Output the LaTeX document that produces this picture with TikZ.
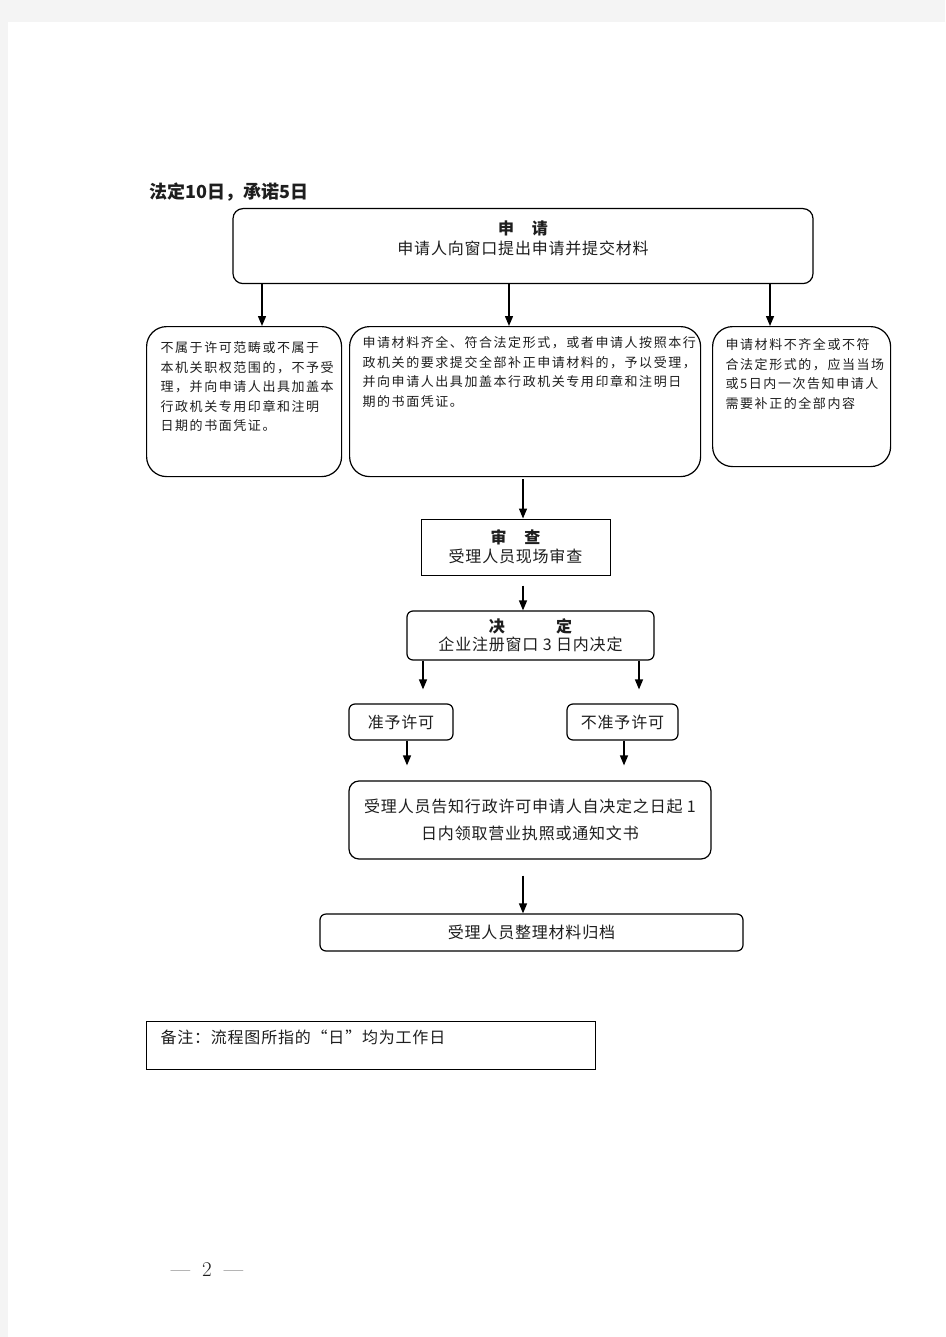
\documentclass[tikz,border=0pt]{standalone}
\usepackage{fontspec}
\usepackage{tikz}
\usetikzlibrary{shapes.geometric, arrows, arrows.meta, positioning}
\newfontfamily\cjk{Noto Sans CJK SC}
\definecolor{pagegray}{HTML}{F4F4F4}
\definecolor{inkgray}{HTML}{1E1E1E}
\newcommand{\headtext}{\cjk\bfseries\fontsize{18}{22}\selectfont}
\newcommand{\boxtext}{\cjk\fontsize{16}{19}\selectfont\addfontfeature{LetterSpace=5}}
\newcommand{\sidetext}{\cjk\fontsize{13}{19.5}\selectfont\addfontfeature{LetterSpace=12}}
\newcommand{\pagenumfont}{\fontsize{21}{24}\selectfont}

\begin{document}
\begin{tikzpicture}[x=1pt, y=-1pt, text=inkgray]
% Define styles
\tikzstyle{bigbox} = [rectangle, rounded corners=10pt, draw=black, line width=1.2pt, anchor=north, inner xsep=10pt, inner ysep=12pt, font=\boxtext]
\tikzstyle{sidebox} = [rectangle, rounded corners=20pt, draw=black, line width=1.2pt, anchor=north west, inner xsep=13pt, inner ysep=12pt, font=\sidetext]
\tikzstyle{plainbox} = [rectangle, draw=black, line width=1pt, align=center, inner sep=0pt, font=\boxtext]
\tikzstyle{stepbox} = [rectangle, rounded corners=6pt, draw=black, line width=1.2pt, align=center, inner sep=0pt, font=\boxtext]
\tikzstyle{arrow} = [line width=1.4pt,->,>={Triangle[length=10pt,width=8pt]}]

% Page
\useasboundingbox (0,0) rectangle (945,1337);
\fill[pagegray] (0,0) rectangle (945,1337);
\fill[white] (8,22) rectangle (945,1337);

% Nodes
\node (limit) [anchor=west, font=\headtext] at (146,192) {法定10日，承诺5日};

\node (apply) [bigbox] at (523,208) {\parbox[t][51pt][t]{560pt}{\centering\fontsize{16}{20}\selectfont
  {\bfseries 申　请}\\申请人向窗口提出申请并提交材料}};

\node (refuse) [sidebox, inner xsep=14pt] at (146,326) {\parbox[t][126pt][t]{167pt}{\raggedright\vspace*{3pt}
  不属于许可范畴或不属于\\本机关职权范围的，不予受\\理，并向申请人出具加盖本\\行政机关专用印章和注明\\日期的书面凭证。}};

\node (accept) [sidebox] at (349,326) {\parbox[t][126pt][t]{325pt}{\raggedright\vspace*{-2pt}
  申请材料齐全、符合法定形式，或者申请人按照本行\\政机关的要求提交全部补正申请材料的，予以受理，\\并向申请人出具加盖本行政机关专用印章和注明日\\期的书面凭证。}};

\node (amend) [sidebox] at (712,326) {\parbox[t][116pt][t]{152pt}{\raggedright
  申请材料不齐全或不符\\合法定形式的，应当当场\\或5日内一次告知申请人\\需要补正的全部内容}};

\node (review) [plainbox, minimum width=189pt, minimum height=56pt] at (515.5,547) {{\bfseries 审　查}\\受理人员现场审查};

\node (decide) [stepbox, minimum width=247pt, minimum height=49pt] at (530.5,635.5) {{\bfseries 决　　　定}\\[-1pt]企业注册窗口 3 日内决定};

\node (grant) [stepbox, minimum width=104pt, minimum height=36pt] at (401,722) {准予许可};
\node (deny) [stepbox, minimum width=111pt, minimum height=36pt] at (622.5,722) {不准予许可};

\node (notify) [stepbox, rounded corners=10pt, minimum width=362pt, minimum height=78pt] at (530,820)
  {受理人员告知行政许可申请人自决定之日起 1\\[8pt]日内领取营业执照或通知文书};

\node (archive) [stepbox, minimum width=423pt, minimum height=37pt] at (531.5,932.5) {受理人员整理材料归档};

\node (remark) [plainbox, anchor=north west, inner xsep=14pt, inner ysep=8pt] at (146,1021)
  {\parbox[t][32pt][t]{421pt}{\raggedright 备注：流程图所指的“日”均为工作日}};

\node (pagenum) [font=\pagenumfont] at (207,1270) {—\hspace{12pt}2\hspace{12pt}—};

% Arrows
\draw[arrow] (apply.south -| 262,0) -- (refuse.north -| 262,0);
\draw[arrow] (apply.south -| 509,0) -- (accept.north -| 509,0);
\draw[arrow] (apply.south -| 770,0) -- (amend.north -| 770,0);
\draw[arrow, shorten <=2pt] (accept.south -| 523,0) -- (review.north -| 523,0);
\draw[arrow, shorten <=10pt] (review.south -| 523,0) -- (decide.north -| 523,0);
\draw[arrow, shorten >=14pt] (decide.south -| 423,0) -- (grant.north -| 423,0);
\draw[arrow, shorten >=14pt] (decide.south -| 639,0) -- (deny.north -| 639,0);
\draw[arrow, shorten >=15pt] (grant.south -| 407,0) -- (notify.north -| 407,0);
\draw[arrow, shorten >=15pt] (deny.south -| 624,0) -- (notify.north -| 624,0);
\draw[arrow, shorten <=16pt] (notify.south -| 523,0) -- (archive.north -| 523,0);
\end{tikzpicture}
\end{document}
